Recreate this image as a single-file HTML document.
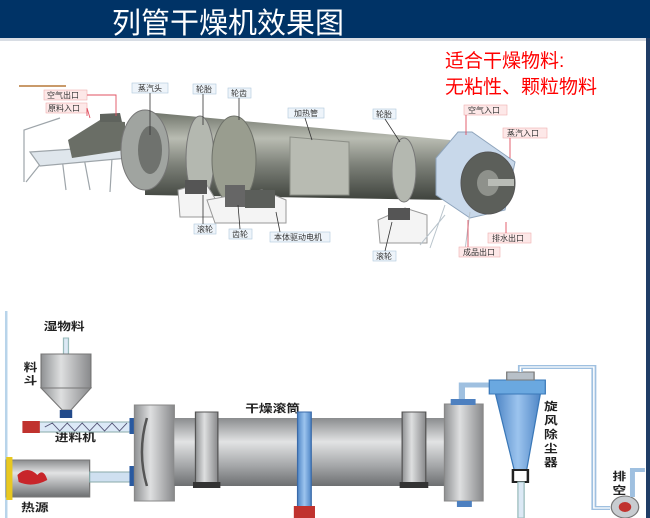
<!DOCTYPE html>
<html><head><meta charset="utf-8"><style>
html,body{margin:0;padding:0;background:#fff;overflow:hidden}
svg{display:block}
text{font-family:"Liberation Sans","Noto Sans CJK SC",sans-serif}
</style></head><body>
<svg width="650" height="518" viewBox="0 0 650 518" xmlns="http://www.w3.org/2000/svg">
<defs>
<linearGradient id="dr" x1="0" y1="0" x2="0" y2="1">
<stop offset="0" stop-color="#6f746a"/><stop offset="0.3" stop-color="#b9bcb2"/><stop offset="0.6" stop-color="#7d8179"/><stop offset="1" stop-color="#3f433d"/></linearGradient>
<linearGradient id="gb" x1="0" y1="0" x2="0" y2="1">
<stop offset="0" stop-color="#8a8c8e"/><stop offset="0.35" stop-color="#e2e3e4"/><stop offset="0.7" stop-color="#a5a7a9"/><stop offset="1" stop-color="#6d6f71"/></linearGradient>
<linearGradient id="gh" x1="0" y1="0" x2="1" y2="0">
<stop offset="0" stop-color="#8f9193"/><stop offset="0.4" stop-color="#dedfe0"/><stop offset="1" stop-color="#88898b"/></linearGradient>
<linearGradient id="bl" x1="0" y1="0" x2="1" y2="0">
<stop offset="0" stop-color="#4f86c6"/><stop offset="0.5" stop-color="#9cc4ee"/><stop offset="1" stop-color="#4f86c6"/></linearGradient>
</defs>
<rect x="0" y="0" width="650" height="38" fill="#003366"/>
<rect x="0" y="38" width="650" height="3" fill="#d8dde4"/>
<text x="112" y="33" font-size="29" fill="#fff">列管干燥机效果图</text>
<rect x="646" y="38" width="4" height="480" fill="#1f3d66"/>
<text x="445" y="67" font-size="19" fill="#f00">适合干燥物料:</text>
<text x="445" y="93" font-size="19" fill="#f00">无粘性、颗粒物料</text>

<!-- top diagram -->
<line x1="19" y1="86" x2="66" y2="86" stroke="#c99a6a" stroke-width="2"/>
<g stroke="#9ea5aa" stroke-width="1.2" fill="none">
<path d="M24 182 L24 130 L60 118 M26 182 L50 152 M66 190 L62 158 M90 190 L84 158 M110 192 L112 158"/>
<path d="M30 152 L118 146 L128 158 L40 166 Z" fill="#dfe6ec"/>
</g>
<path d="M68 140 L100 120 L125 122 L125 150 L72 158 Z" fill="#6a6e66"/>
<path d="M100 114 L120 113 L122 122 L100 122Z" fill="#5f635d"/>
<polygon points="145,112 450,140 450,200 145,195" fill="url(#dr)"/>
<ellipse cx="145" cy="150" rx="24" ry="40" fill="#a0a4a0" stroke="#777"/>
<ellipse cx="150" cy="150" rx="12" ry="24" fill="#6f726e"/>
<ellipse cx="200" cy="158" rx="14" ry="42" fill="#b4b8b0" stroke="#777"/>
<ellipse cx="234" cy="160" rx="22" ry="44" fill="#999d8f" stroke="#6e7169"/>
<polygon points="290,137 349,142 349,195 290,195" fill="#b8bbb2" stroke="#8c8f87"/>
<ellipse cx="404" cy="170" rx="12" ry="32" fill="#b4b8b0" stroke="#777"/>
<polygon points="458,132 472,132 515,162 505,210 470,218 436,195 436,158" fill="#c8d8ea" stroke="#8ea4bc"/>
<ellipse cx="488" cy="183" rx="27" ry="31" fill="#5c5f5a" stroke="#555"/>
<ellipse cx="488" cy="183" rx="11" ry="13" fill="#8e918b"/>
<rect x="488" y="179" width="26" height="7" fill="#b9bcb6"/>
<g fill="#f4f4f4" stroke="#999">
<path d="M178 190 L205 182 L216 200 L216 217 L180 217Z"/>
<path d="M207 200 L262 190 L286 200 L286 223 L215 223Z"/>
<path d="M378 220 L405 208 L427 215 L427 243 L380 243Z"/>
</g>
<rect x="185" y="180" width="22" height="14" fill="#555"/>
<rect x="225" y="185" width="20" height="22" fill="#666"/>
<rect x="245" y="190" width="30" height="18" fill="#5b5e5a"/>
<rect x="388" y="208" width="22" height="12" fill="#555"/>
<g stroke="#b9c4cc" fill="none"><path d="M445 205 L430 248 M470 212 L465 250 M445 215 L420 245"/></g>
<g font-size="8" fill="#333">
<rect x="44" y="90" width="43" height="10" fill="#fde8e8" stroke="#f0b0b0" stroke-width=".6"/><text x="47" y="98">空气出口</text>
<rect x="46" y="103" width="41" height="10" fill="#fde8e8" stroke="#f0b0b0" stroke-width=".6"/><text x="48" y="111">原料入口</text>
<rect x="132" y="83" width="36" height="10" fill="#eef4fa" stroke="#b0c8dd" stroke-width=".6"/><text x="138" y="91">蒸汽头</text>
<rect x="193" y="84" width="23" height="10" fill="#eef4fa" stroke="#b0c8dd" stroke-width=".6"/><text x="196" y="92">轮胎</text>
<rect x="228" y="88" width="23" height="10" fill="#eef4fa" stroke="#b0c8dd" stroke-width=".6"/><text x="231" y="96">轮齿</text>
<rect x="288" y="108" width="36" height="10" fill="#eef4fa" stroke="#b0c8dd" stroke-width=".6"/><text x="294" y="116">加热管</text>
<rect x="373" y="109" width="23" height="10" fill="#eef4fa" stroke="#b0c8dd" stroke-width=".6"/><text x="376" y="117">轮胎</text>
<rect x="464" y="105" width="43" height="10" fill="#fde8e8" stroke="#f0b0b0" stroke-width=".6"/><text x="468" y="113">空气入口</text>
<rect x="503" y="128" width="44" height="10" fill="#fde8e8" stroke="#f0b0b0" stroke-width=".6"/><text x="507" y="136">蒸汽入口</text>
<rect x="488" y="233" width="43" height="10" fill="#fde8e8" stroke="#f0b0b0" stroke-width=".6"/><text x="492" y="241">排水出口</text>
<rect x="459" y="247" width="41" height="10" fill="#fde8e8" stroke="#f0b0b0" stroke-width=".6"/><text x="463" y="255">成品出口</text>
<rect x="194" y="224" width="22" height="10" fill="#eef4fa" stroke="#b0c8dd" stroke-width=".6"/><text x="197" y="232">滚轮</text>
<rect x="229" y="229" width="23" height="10" fill="#eef4fa" stroke="#b0c8dd" stroke-width=".6"/><text x="232" y="237">齿轮</text>
<rect x="270" y="232" width="60" height="10" fill="#eef4fa" stroke="#b0c8dd" stroke-width=".6"/><text x="274" y="240">本体驱动电机</text>
<rect x="373" y="251" width="23" height="10" fill="#eef4fa" stroke="#b0c8dd" stroke-width=".6"/><text x="376" y="259">滚轮</text>
</g>
<g stroke="#333" stroke-width=".8"><path d="M150 93 L150 135 M203 94 L203 125 M239 98 L239 120 M305 118 L312 140 M385 119 L400 142 M203 224 L203 195 M240 229 L238 205 M280 232 L276 212 M385 251 L392 222"/></g>
<g stroke="#e05060" stroke-width=".9" fill="none"><path d="M87 95 L116 95 L116 116 M87 108 L87 116 M87 108 L90 118 M466 115 L466 135 M510 138 L510 158 M506 222 L506 233 M468 220 L468 247"/></g>

<!-- bottom diagram -->
<g transform="scale(1.245,1)">
<rect x="4" y="311" width="2" height="207" fill="#b8d4ea"/>
<g font-size="11" font-weight="bold" fill="#222">
<text x="35" y="330">湿物料</text>
<text x="19" y="371">料</text><text x="19" y="384">斗</text>
<text x="44" y="441">进料机</text>
<text x="17" y="511">热源</text>
<text x="197" y="412">干燥滚筒</text>
<text x="437" y="410">旋</text><text x="437" y="424">风</text><text x="437" y="438">除</text><text x="437" y="452">尘</text><text x="437" y="466">器</text>
<text x="492" y="480">排</text><text x="492" y="494">空</text>
</g>
<rect x="51" y="338" width="4" height="16" fill="#dce9f5" stroke="#9bb"/>
<rect x="33" y="354" width="40" height="34" fill="url(#gh)" stroke="#777"/>
<polygon points="33,388 73,388 57,410 50,410" fill="url(#gh)" stroke="#777"/>
<rect x="48" y="410" width="10" height="8" fill="#224a8a"/>
<rect x="20" y="422" width="85" height="10" fill="#dce9f7" stroke="#8aa"/>
<polyline points="36,427 42,423 48,431 54,423 60,431 66,423 72,431 78,423 84,431 90,423 96,431 102,423" fill="none" stroke="#557" stroke-width=".8"/>
<rect x="18" y="421" width="14" height="12" fill="#c0322e"/>
<rect x="104" y="418" width="5" height="16" fill="#2a5aa0"/>
<rect x="5" y="460" width="67" height="37" fill="url(#gb)" stroke="#777"/>
<rect x="5" y="457" width="5" height="43" fill="#e8c820"/>
<path d="M14 475 Q22 465 30 475 Q35 468 38 480 Q26 488 15 482Z" fill="#c8252a"/>
<rect x="72" y="472" width="35" height="10" fill="#cfe0f0" stroke="#8aa"/>
<rect x="104" y="466" width="6" height="20" fill="#2a5aa0"/>
<rect x="108" y="405" width="32" height="96" fill="url(#gh)" stroke="#888"/>
<rect x="140" y="418" width="220" height="68" fill="url(#gb)"/>
<path d="M118 418 Q110 452 118 486" fill="none" stroke="#555" stroke-width="2"/>
<path d="M370 418 Q378 452 370 486" fill="none" stroke="#555" stroke-width="2"/>
<rect x="157" y="412" width="18" height="72" fill="url(#gh)" stroke="#555"/>
<rect x="155" y="482" width="22" height="6" fill="#333"/>
<rect x="323" y="412" width="19" height="72" fill="url(#gh)" stroke="#555"/>
<rect x="321" y="482" width="23" height="6" fill="#333"/>
<rect x="239" y="412" width="11" height="100" fill="url(#bl)" stroke="#3a6aa8"/>
<rect x="236" y="506" width="17" height="12" fill="#c0322e"/>
<rect x="357" y="404" width="31" height="97" fill="url(#gh)" stroke="#888"/>
<rect x="362" y="399" width="20" height="6" fill="#4d80c0"/>
<path d="M371 399 L371 385 L393 385" fill="none" stroke="#9fc0e0" stroke-width="5"/>
<rect x="393" y="380" width="45" height="14" fill="#6aa8e0" stroke="#3a78b8"/>
<rect x="407" y="372" width="22" height="8" fill="#b8c0c8" stroke="#777"/>
<polygon points="398,394 434,394 423,470 413,470" fill="url(#bl)" stroke="#3a78b8"/>
<rect x="412" y="470" width="12" height="12" fill="#fff" stroke="#222" stroke-width="2"/>
<rect x="416" y="482" width="5" height="36" fill="#dce9f5" stroke="#9bb"/>
<path d="M418 372 L418 367 L477 367 L477 508 L490 508" fill="none" stroke="#9fc0e0" stroke-width="4"/>
<path d="M418 372 L418 367 L477 367 L477 508 L490 508" fill="none" stroke="#fff" stroke-width="1.2"/>
<circle cx="502" cy="507" r="11" fill="#c8ccd0" stroke="#777"/>
<circle cx="502" cy="507" r="5" fill="#c0322e"/>
<path d="M508 497 L508 470 L518 470" fill="none" stroke="#9fc0e0" stroke-width="4"/>
<rect x="367" y="501" width="12" height="6" fill="#4d80c0"/>
</g>
</svg>
</body></html>
